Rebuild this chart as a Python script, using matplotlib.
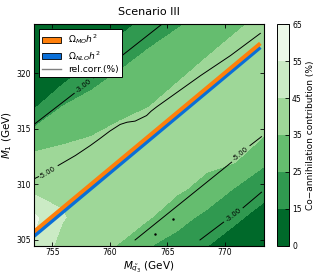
import numpy as np
import matplotlib.pyplot as plt
from matplotlib.patches import Patch
from matplotlib.lines import Line2D

# grid of the co-annihilation contribution (%)
m_q3 = [753.4, 755.9, 758.4, 760.9, 763.4, 765.9, 768.4, 770.9, 773.4]
m_1 = [304.5, 307.0, 309.5, 312.0, 314.5, 317.0, 319.5, 322.0, 324.5]
coann = [
    [53.2, 41.3, 37.3, 34.6, 25.6, 20.6, 15.4, 9.7, 3.3],
    [57.0, 45.6, 40.6, 37.9, 35.6, 28.8, 22.2, 16.8, 10.8],
    [42.5, 43.6, 43.9, 40.9, 38.3, 36.2, 32.0, 23.9, 18.3],
    [38.5, 38.6, 40.0, 43.9, 41.1, 38.7, 36.8, 35.1, 26.3],
    [28.8, 32.8, 34.6, 37.8, 42.7, 41.1, 39.2, 37.3, 35.6],
    [13.7, 25.2, 29.0, 32.1, 34.8, 41.2, 41.5, 39.6, 37.8],
    [9.0, 12.4, 22.2, 27.2, 30.2, 34.1, 40.2, 41.9, 40.0],
    [6.0, 8.5, 11.6, 20.0, 25.7, 29.2, 33.4, 39.3, 42.2],
    [4.0, 5.0, 6.0, 11.0, 18.4, 24.0, 28.0, 32.5, 38.4],
]
levels = [0, 15, 25, 35, 45, 55, 65]

# relic density bands
omega_mo_x = [753.4, 773.1]
omega_mo_y = [305.75, 322.7]
omega_nlo_x = [753.4, 773.1]
omega_nlo_y = [305.36, 322.35]

# relative correction contours (%)
nan = np.nan
rc3_up_x = [753.4, 756.9, nan, 758.6, 764.5]
rc3_up_y = [315.4, 318.2, nan, 319.6, 324.4]
rc5_up_x = [753.4, 753.8, nan, 755.5, 757.0, 758.3, 759.1, 760.0, 760.9, 761.5,
            762.2, 762.6, 763.2, 763.6, 764.1, 767.9, 770.5, 773.1]
rc5_up_y = [310.5, 310.7, nan, 311.7, 312.6, 313.5, 314.1, 314.8, 315.4, 315.6,
            315.7, 315.9, 316.2, 316.6, 317.0, 319.8, 321.6, 323.6]
rc5_lo_x = [762.2, 770.6, nan, 772.2, 773.2]
rc5_lo_y = [305.0, 312.0, nan, 313.5, 314.3]
rc3_lo_x = [767.85, 769.9, nan, 771.6, 773.2]
rc3_lo_y = [305.0, 306.6, nan, 307.9, 309.3]
dots_x = [763.9, 765.5]
dots_y = [305.5, 306.9]

# contour labels: x, y, text, angle
clabels = [
    (757.75, 318.9, '-3.00', 38),
    (754.6, 311.1, '-5.00', 31),
    (771.35, 312.75, '-5.00', 39),
    (770.75, 307.25, '-3.00', 38),
]

fig = plt.figure(figsize=(3.25, 2.74), dpi=100)
ax = fig.add_axes([0.1046, 0.104, 0.707, 0.8066])
cax = fig.add_axes([0.853, 0.104, 0.037, 0.8066])

cf = ax.contourf(m_q3, m_1, np.array(coann), levels=levels, cmap='Greens_r')

ax.plot(omega_nlo_x, omega_nlo_y, color='#0a6fd8', lw=2.8, solid_capstyle='butt')
ax.plot(omega_mo_x, omega_mo_y, color='#ff7f0a', lw=2.8, solid_capstyle='butt')

for xs, ys in [(rc3_up_x, rc3_up_y), (rc5_up_x, rc5_up_y),
               (rc5_lo_x, rc5_lo_y), (rc3_lo_x, rc3_lo_y)]:
    ax.plot(xs, ys, color='black', lw=0.7)
ax.plot(dots_x, dots_y, 'k.', ms=1.5)
for x, y, t, a in clabels:
    ax.text(x, y, t, fontsize=5, rotation=a, ha='center', va='center',
            rotation_mode='anchor')

ax.set_xlim(753.4, 773.4)
ax.set_ylim(304.5, 324.4)
ax.set_xticks([755, 760, 765, 770])
ax.set_yticks([305, 310, 315, 320])
ax.tick_params(direction='in', top=True, right=True, length=3, width=0.6,
               labelsize=5.5, pad=2)
ax.set_xlabel(r'$M_{\tilde{q}_3}$ (GeV)', fontsize=7.5, labelpad=1)
ax.set_ylabel(r'$M_1$ (GeV)', fontsize=7.5, labelpad=2)
ax.set_title('Scenario III', fontsize=8, pad=7)

handles = [
    Patch(facecolor='#ff7f0a', edgecolor='black', lw=0.6),
    Patch(facecolor='#0a6fd8', edgecolor='black', lw=0.6),
    Line2D([], [], color='gray', lw=1.0),
]
labels = [r'$\Omega_{MO}h^2$', r'$\Omega_{NLO}h^2$', 'rel.corr.(%)']
leg = ax.legend(handles, labels, loc='upper left', bbox_to_anchor=(0.022, 0.978),
                borderaxespad=0, fontsize=6.6, fancybox=False, framealpha=1,
                edgecolor='black', handlelength=2.0, handleheight=0.7,
                labelspacing=0.25, borderpad=0.35, handletextpad=0.8)
leg.get_frame().set_linewidth(0.7)

cb = fig.colorbar(cf, cax=cax)
cb.set_ticks(levels)
cb.ax.tick_params(direction='in', length=3, width=0.6, labelsize=5.5, pad=2)
cb.set_label('Co\u2212annihilation contribution (%)', fontsize=6.5, labelpad=3)
cb.outline.set_linewidth(0.7)

plt.savefig('out.png', dpi=100)
